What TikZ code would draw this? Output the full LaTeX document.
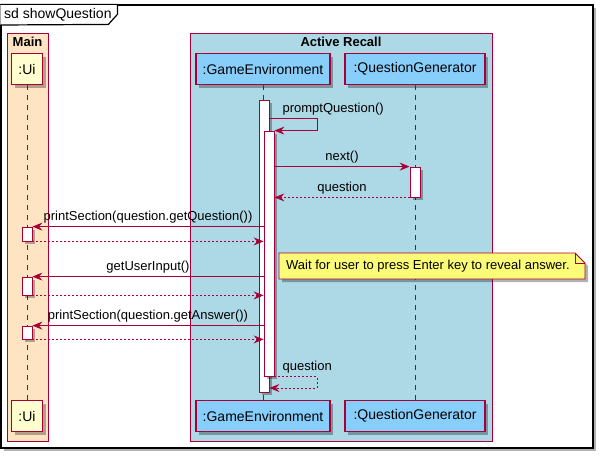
\documentclass[tikz,border=0pt]{standalone}
\usepackage{fontspec}
\setmainfont{Liberation Sans}
\usetikzlibrary{positioning,arrows.meta,shadows,calc}
\definecolor{umlred}{HTML}{A80036}
\definecolor{uiyellow}{HTML}{FEFECE}
\definecolor{skyblue}{HTML}{87CEFA}
\definecolor{recallblue}{HTML}{ADD8E6}
\definecolor{mainbisque}{HTML}{FFE4C4}
\definecolor{noteyellow}{HTML}{FBFB77}
\tikzset{
    >={Stealth[length=10pt,width=8pt,inset=3.5pt]},
    castshadow/.style={drop shadow={shadow xshift=3pt, shadow yshift=-3pt, fill=black, opacity=0.3}},
    sdframe/.style={rectangle, draw=black, line width=1.2pt, fill=white, castshadow},
    group/.style={rectangle, draw=umlred, line width=0.8pt},
    grouptitle/.style={font=\bfseries\fontsize{13}{15}\selectfont, inner sep=0pt},
    participant/.style={rectangle, draw=umlred, line width=1.2pt, minimum height=31, inner sep=0pt, font=\fontsize{14}{16}\selectfont, castshadow},
    activation/.style={rectangle, draw=umlred, line width=0.8pt, fill=white, minimum width=10, inner sep=0pt, castshadow},
    lifeline/.style={umlred, line width=0.8pt, dash pattern=on 5pt off 5pt},
    msg/.style={->, umlred, line width=0.8pt},
    reply/.style={msg, dash pattern=on 2pt off 2pt},
    msglabel/.style={font=\fontsize{13}{15}\selectfont, text=black, inner sep=0pt, above=3pt},
    notebox/.style={draw=umlred, line width=0.8pt, fill=noteyellow, castshadow},
    notetext/.style={font=\fontsize{13}{15}\selectfont, inner sep=0pt}
}
\begin{document}
\begin{tikzpicture}[x=1pt, y=-1pt]
    \useasboundingbox (0,0) rectangle (604,460);
    \node[sdframe, minimum width=592, minimum height=443] (sd) at (297,226.5) {};
    \draw[line width=1.2pt, fill=white] (sd.north west) -- ++(117,0) -- ++(0,10) -- ++(-9,10) -- (sd.north west |- 0,25);
    \node[anchor=west, inner sep=0pt, font=\fontsize{14}{16}\selectfont] (sdname) at (4,15) {sd showQuestion};

    \node[group, fill=mainbisque, minimum width=41, minimum height=408] (main) at (27.5,237) {};
    \node[grouptitle, below=4.5pt of main.north] (maintitle) {Main};
    \node[group, fill=recallblue, minimum width=302, minimum height=408] (recall) at (341,237) {};
    \node[grouptitle, below=4.5pt of recall.north] (recalltitle) {Active Recall};

    \node[participant, fill=uiyellow, minimum width=31] (ui) at (27,69) {:Ui};
    \node[participant, fill=skyblue, minimum width=134] (ge) at (263,69) {:GameEnvironment};
    \node[participant, fill=skyblue, minimum width=140] (qg) at (415,69) {:QuestionGenerator};
    \node[participant, fill=uiyellow, minimum width=31] (uib) at (ui |- 0,416) {:Ui};
    \node[participant, fill=skyblue, minimum width=134] (geb) at (ge |- 0,416) {:GameEnvironment};
    \node[participant, fill=skyblue, minimum width=140] (qgb) at (qg |- 0,416) {:QuestionGenerator};

    \draw[lifeline] (ui) -- (uib);
    \draw[lifeline] (ge) -- (geb);
    \draw[lifeline] (qg) -- (qgb);

    \node[activation, minimum height=292] (ge1) at (264,246) {};
    \node[activation, minimum height=245] (ge2) at (269,253.5) {};
    \node[activation, minimum height=30] (qg1) at (415,182) {};
    \node[activation, minimum height=14] (ui1) at (27,234) {};
    \node[activation, minimum height=18] (ui2) at (27,286) {};
    \node[activation, minimum height=13] (ui3) at (27,332.5) {};

    \coordinate (pq) at (317,118);
    \draw[msg] (ge1.east |- pq) -- (pq) -- (pq |- ge2.north) -- (ge2.north east);
    \node[msglabel, anchor=south west] at ($(ge1.east |- pq)+(13,0)$) {promptQuestion()};
    \draw[msg] (ge2.east |- qg1.north) -- node[msglabel] {next()} (qg1.north west);
    \draw[reply] (qg1.south west) -- node[msglabel] {question} (ge2.east |- qg1.south);
    \draw[msg] (ge2.west |- ui1.north) -- node[msglabel] {printSection(question.getQuestion())} (ui1.north east);
    \draw[reply] (ui1.south east) -- (ge2.west |- ui1.south);
    \draw[msg] (ge2.west |- ui2.north) -- node[msglabel] {getUserInput()} (ui2.north east);
    \draw[reply] (ui2.south east) -- (ge2.west |- ui2.south);
    \draw[msg] (ge2.west |- ui3.north) -- node[msglabel] {printSection(question.getAnswer())} (ui3.north east);
    \draw[reply] (ui3.south east) -- (ge2.west |- ui3.south);
    \coordinate (rq) at (317,388);
    \draw[reply] (ge2.south east) -- (rq |- ge2.south) -- (rq) -- (ge1.east |- rq);
    \node[msglabel, anchor=south west] at ($(ge2.south east)+(8,0)$) {question};

    \coordinate (nw) at (279,253);
    \coordinate (se) at (585,279);
    \draw[notebox] (nw) -- ($(nw -| se)+(-10,0)$) -- ($(nw -| se)+(0,10)$) -- (se) -- (nw |- se) -- cycle;
    \draw[umlred, line width=0.8pt] ($(nw -| se)+(-10,0)$) -- ($(nw -| se)+(-10,10)$) -- ($(nw -| se)+(0,10)$);
    \node[notetext, anchor=west] (wait) at ($(nw)!0.5!(nw |- se)+(7,0)$) {Wait for user to press Enter key to reveal answer.};
\end{tikzpicture}
\end{document}
